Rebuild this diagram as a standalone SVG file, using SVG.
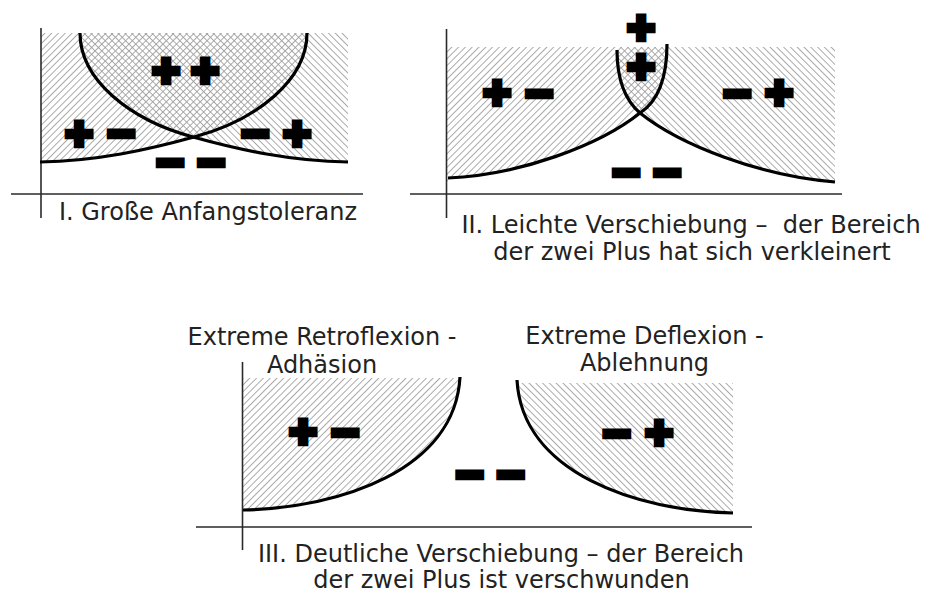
<svg xmlns="http://www.w3.org/2000/svg" width="927" height="594" viewBox="0 0 927 594">
<style>
.axis{stroke:#2a2a2a;stroke-width:1.6;fill:none}
.curve{stroke:#000;stroke-width:3.2;fill:none}
.cap{font-family:"DejaVu Sans","Liberation Sans",sans-serif;font-size:24px;fill:#222;text-anchor:middle}
.sym{font-family:"DejaVu Sans","Liberation Sans",sans-serif;font-weight:bold;font-size:36px;fill:#000;stroke:#000;stroke-width:6.4;stroke-linejoin:miter;text-anchor:middle}
.hl{fill:url(#hatchL);stroke:none}
.hr{fill:url(#hatchR);stroke:none}
</style>
<defs>
<pattern id="hatchL" patternUnits="userSpaceOnUse" width="4.8" height="4.8" patternTransform="rotate(45)">
<line x1="2.4" y1="-1" x2="2.4" y2="6" stroke="#9c9c9c" stroke-width="0.85"/>
</pattern>
<pattern id="hatchR" patternUnits="userSpaceOnUse" width="4.8" height="4.8" patternTransform="rotate(-45)">
<line x1="2.4" y1="-1" x2="2.4" y2="6" stroke="#9c9c9c" stroke-width="0.85"/>
</pattern>
<clipPath id="c1"><rect x="41" y="33" width="307" height="140"/></clipPath>
<clipPath id="c2"><rect x="447" y="47" width="388" height="140"/></clipPath>
<clipPath id="c3l"><rect x="243" y="378" width="217" height="140"/></clipPath>
<clipPath id="c3r"><rect x="517" y="383" width="216" height="140"/></clipPath>
</defs>
<rect width="927" height="594" fill="#fff"/>

<g id="panel1">
<g clip-path="url(#c1)">
<path class="hl" d="M41,33 H307 C307,80 257,120 194,137 C147,150 97,161 39,162 L41,170 Z"/>
<path class="hr" d="M80,33 C80,80 130,120 193,137 C240,150 290,161 348,162 V33 Z"/>
</g>
<line class="axis" x1="41" y1="28" x2="41" y2="218"/>
<line class="axis" x1="11" y1="194" x2="363" y2="194"/>
<path class="curve" d="M80,33 C80,80 130,120 193,137 C240,150 290,161 348,162"/>
<path class="curve" d="M307,33 C307,80 257,120 194,137 C147,150 97,161 40,162"/>
<text class="sym" x="166" y="82">+</text>
<text class="sym" x="205" y="82">+</text>
<text class="sym" x="79" y="145">+</text>
<text class="sym" x="121" y="145">−</text>
<text class="sym" x="255" y="145">−</text>
<text class="sym" x="297" y="145">+</text>
<text class="sym" x="170" y="174">−</text>
<text class="sym" x="211" y="174">−</text>
<text class="cap" x="208" y="220">I. Große Anfangstoleranz</text>
</g>

<g id="panel2">
<g clip-path="url(#c2)">
<path class="hl" d="M447,40 H667 C667,75 660,100 640,113 C600,145 520,175 448,178 L447,190 Z"/>
<path class="hr" d="M617,40 L617,50 C617,78 625,100 640,113 C680,145 760,176 835,182 V40 Z"/>
</g>
<line class="axis" x1="446.5" y1="29" x2="446.5" y2="218"/>
<line class="axis" x1="410" y1="194" x2="842" y2="194"/>
<path class="curve" d="M448,178 C520,175 600,145 640,113 C660,100 667,75 667,44"/>
<path class="curve" d="M617,50 C617,78 625,100 640,113 C680,145 760,176 835,182"/>
<text class="sym" x="641" y="39">+</text>
<text class="sym" x="641" y="78">+</text>
<text class="sym" x="497" y="104">+</text>
<text class="sym" x="539" y="105">−</text>
<text class="sym" x="737" y="105">−</text>
<text class="sym" x="779" y="104">+</text>
<text class="sym" x="626" y="184">−</text>
<text class="sym" x="667" y="184">−</text>
<text class="cap" x="691" y="233" xml:space="preserve">II. Leichte Verschiebung –  der Bereich</text>
<text class="cap" x="692" y="260">der zwei Plus hat sich verkleinert</text>
</g>

<g id="panel3">
<g clip-path="url(#c3l)">
<path class="hl" d="M243,370 H460 V377 C455,470 340,508 243,510 Z"/>
</g>
<g clip-path="url(#c3r)">
<path class="hr" d="M517,375 V380 C522,473 637,511 733,513 V375 Z"/>
</g>
<line class="axis" x1="242.5" y1="362" x2="242.5" y2="550"/>
<line class="axis" x1="196" y1="527" x2="752" y2="527"/>
<path class="curve" d="M243,510 C340,508 455,470 460,377"/>
<path class="curve" d="M517,380 C522,473 637,511 733,513"/>
<text class="sym" x="303" y="443">+</text>
<text class="sym" x="345" y="444">−</text>
<text class="sym" x="469.5" y="486">−</text>
<text class="sym" x="510.5" y="486">−</text>
<text class="sym" x="616.5" y="445">−</text>
<text class="sym" x="659" y="444">+</text>
<text class="cap" x="322" y="345">Extreme Retroflexion -</text>
<text class="cap" x="322" y="373">Adhäsion</text>
<text class="cap" x="644.5" y="344">Extreme Deflexion -</text>
<text class="cap" x="644.5" y="371">Ablehnung</text>
<text class="cap" x="501" y="562">III. Deutliche Verschiebung – der Bereich</text>
<text class="cap" x="501.5" y="588">der zwei Plus ist verschwunden</text>
</g>
</svg>
